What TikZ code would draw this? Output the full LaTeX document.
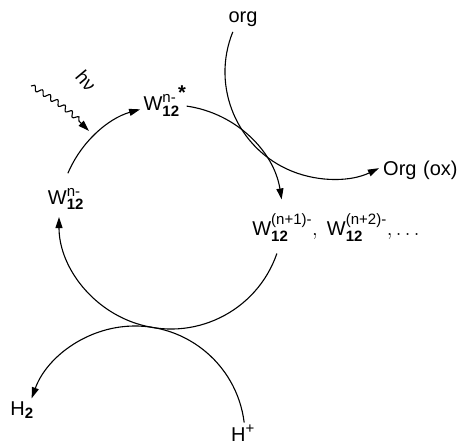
\documentclass[tikz,border=0pt]{standalone}
\usepackage{fontspec}
\setmainfont{Liberation Sans}
\usepackage{amsmath}
\DeclareMathSizes{20}{20}{15}{12}
\usetikzlibrary{arrows.meta,decorations.pathmorphing}
\tikzset{
  flow/.style={-{Triangle[length=11pt,width=7pt]},line width=1.1pt},
  plain/.style={line width=1.1pt},
  wavy/.style={flow,decorate,decoration={snake,amplitude=2.5pt,segment length=9pt,post length=14pt}},
  species/.style={font=\fontsize{20}{24}\selectfont,inner sep=1pt},
  photon/.style={font=\fontsize{19}{22}\selectfont,inner sep=0pt,rotate=-50}
}

\begin{document}
\begin{tikzpicture}[x=1pt,y=1pt]
  \useasboundingbox (0,0) rectangle (470,-446);
  % centres of the arcs
  \coordinate (cyc) at (171,-217);
  \coordinate (hyd) at (135,-436);
  \coordinate (oxi) at (332,-72);

  \node[species] (wn) at (66,-199) {$\text{W}_{\textbf{12}}^{\text{n-}}$};
  \node[species] (wstar) at (165,-101) {$\text{W}_{\textbf{12}}^{\text{n-}\,\raisebox{3pt}{\bfseries *}}$};
  \node[species] (wred) at (336,-228) {$\text{W}_{\textbf{12}}^{\text{(n+1)-}}, \;\text{W}_{\textbf{12}}^{\text{(n+2)-}},\ldots$};
  \node[species] (org) at (243,-19) {org};
  \node[species,anchor=west] (orgox) at (382,-170) {Org\,\,(ox)};
  \node[species] (h2) at (22,-410) {$\text{H}_{\textbf{2}}$};
  \node[species] (hplus) at (243,-433) {$\text{H}^{\text{+}}$};
  \node[photon] (hv) at (86,-81) {hν};

  % ends of the arcs
  \coordinate (c1s) at ([shift={(-19:112pt)}]cyc);
  \coordinate (c2s) at ([shift={(157:112pt)}]cyc);
  \coordinate (c3s) at ([shift={(82:112pt)}]cyc);
  \coordinate (hs) at ([shift={(7:110pt)}]hyd);
  \coordinate (os) at ([shift={(158:107pt)}]oxi);
  \coordinate (hvs) at (31,-86);
  \coordinate (hvt) at (89,-131);

  \draw[flow] (c1s) arc[start angle=-19,end angle=-180,radius=112pt];
  \draw[flow] (c2s) arc[start angle=157,end angle=106,radius=112pt];
  \draw[flow] (c3s) arc[start angle=82,end angle=9,radius=112pt];
  \draw[flow] (hs) arc[start angle=7,end angle=160,radius=110pt];
  \draw[flow] (os) arc[start angle=158,end angle=296,radius=107pt];
  \draw[wavy] (hvs) to[bend left=8] (hvt);
\end{tikzpicture}
\end{document}
